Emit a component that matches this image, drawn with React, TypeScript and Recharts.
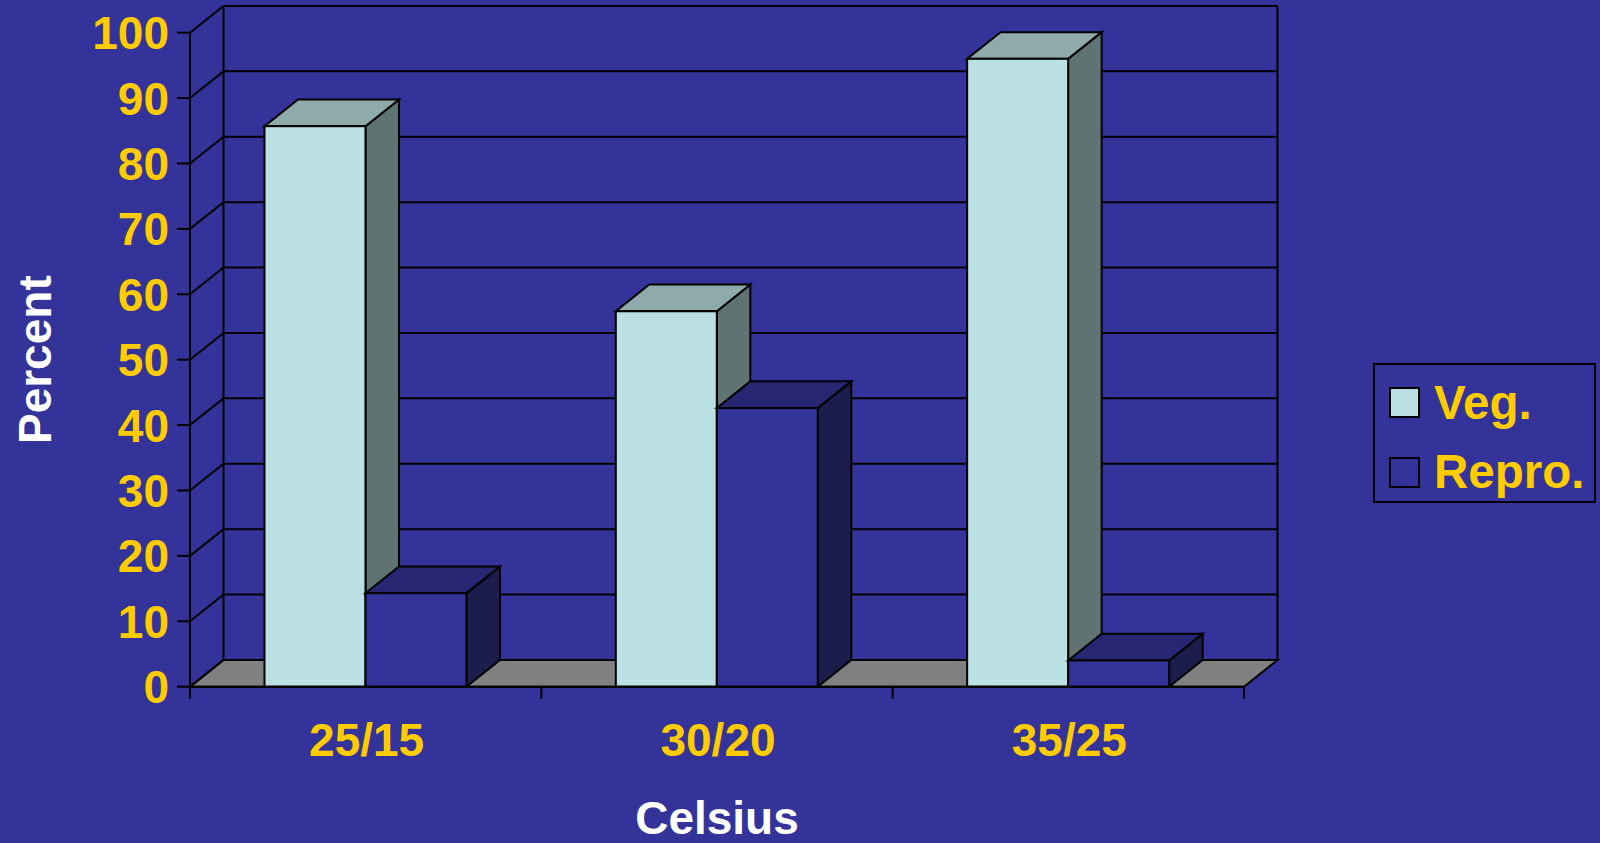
import { BarChart, Bar, XAxis, YAxis, CartesianGrid, Legend } from 'recharts';

const CATEGORIES = ['25/15', '30/20', '35/25'];
const VEG = [85.7, 57.4, 96];
const REPRO = [14.3, 42.6, 4];
const Y_TICKS = [0, 10, 20, 30, 40, 50, 60, 70, 80, 90, 100];

const data = CATEGORIES.map((name, i) => ({ name, veg: VEG[i], repro: REPRO[i] }));

const BG = '#333399';
const YELLOW = '#ffcc00';
const FONT = 'Arial, "Liberation Sans", sans-serif';
const LINE = 2;
// depth of the fake 3d
const DX = 33.5;
const DY = -26.7;

const SERIES = [
  { key: 'veg', label: 'Veg.', front: '#bbe0e3', top: '#8eaaaa', side: '#5f7373' },
  { key: 'repro', label: 'Repro.', front: '#333399', top: '#262673', side: '#1c1c4d' },
];

function box(c: { front: string; top: string; side: string }) {
  return (p: any) => {
    const { x, y, width: w, height: h } = p;
    if (h == null || w == null) return <g />;
    const r = x + w;
    const b = y + h;
    return (
      <g stroke="#000" strokeWidth={LINE}>
        <polygon points={`${r},${y} ${r + DX},${y + DY} ${r + DX},${b + DY} ${r},${b}`} fill={c.side} />
        <polygon points={`${x},${y} ${r},${y} ${r + DX},${y + DY} ${x + DX},${y + DY}`} fill={c.top} />
        <rect x={x} y={y} width={w} height={h} fill={c.front} />
      </g>
    );
  };
}

// each horizontal grid line becomes back-wall line + left-wall diagonal
function wallLine(p: any) {
  const { x1, x2, y1, key } = p;
  const top = p.y ?? p.offset?.top;
  const bottom = top + (p.height ?? p.offset?.height);
  const isFloor = Math.abs(y1 - bottom) < 0.5;
  const isTop = Math.abs(y1 - top) < 0.5;
  return (
    <g key={key} stroke="#000" strokeWidth={LINE} fill="none">
      {isFloor ? (
        <polygon
          points={`${x1},${y1} ${x2},${y1} ${x2 + DX},${y1 + DY} ${x1 + DX},${y1 + DY}`}
          fill="#808080"
        />
      ) : (
        <line x1={x1 + DX} y1={y1 + DY} x2={x2 + DX} y2={y1 + DY} />
      )}
      <line x1={x1} y1={y1} x2={x1 + DX} y2={y1 + DY} />
      {isTop && (
        <>
          <line x1={x1 + DX} y1={y1 + DY} x2={x1 + DX} y2={bottom + DY} />
          <line x1={x2 + DX} y1={y1 + DY} x2={x2 + DX} y2={bottom + DY} />
        </>
      )}
    </g>
  );
}

function YTick(p: any) {
  const { x, y, payload } = p;
  return (
    <g>
      <line x1={x - 13} y1={y} x2={x} y2={y} stroke="#000" strokeWidth={LINE} />
      <text x={x - 21} y={y} dy="0.36em" textAnchor="end" fill={YELLOW} fontFamily={FONT} fontWeight="bold" fontSize={46}>
        {payload.value}
      </text>
    </g>
  );
}

function XTick(p: any) {
  const { x, y, payload, index, visibleTicksCount, width } = p;
  const band = width / visibleTicksCount;
  const last = index === visibleTicksCount - 1;
  return (
    <g>
      <line x1={x - band / 2} y1={y} x2={x - band / 2} y2={y + 12} stroke="#000" strokeWidth={LINE} />
      {last && <line x1={x + band / 2} y1={y} x2={x + band / 2} y2={y + 12} stroke="#000" strokeWidth={LINE} />}
      <text x={x + 1} y={y + 69.5} textAnchor="middle" fill={YELLOW} fontFamily={FONT} fontWeight="bold" fontSize={46}>
        {payload.value}
      </text>
    </g>
  );
}

// legend follows series order (veg on top)
function renderLegend() {
  return (
    <div
      style={{
        position: 'relative',
        width: 223,
        height: 140,
        boxSizing: 'border-box',
        border: '2px solid #000',
        fontFamily: FONT,
        fontWeight: 'bold',
        fontSize: 47.5,
        color: YELLOW,
      }}
    >
      {SERIES.map((s, i) => (
        <div key={s.key}>
          <div
            style={{
              position: 'absolute',
              left: 14,
              top: 22 + i * 70,
              width: 31,
              height: 31,
              boxSizing: 'border-box',
              border: '2px solid #000',
              background: s.front,
            }}
          />
          <div style={{ position: 'absolute', left: 59, top: 11 + i * 69, lineHeight: '53px', whiteSpace: 'nowrap' }}>
            {s.label}
          </div>
        </div>
      ))}
    </div>
  );
}

export default function App() {
  return (
    <div style={{ position: 'fixed', left: 0, top: 0, width: 1600, height: 843, background: BG }}>
      <BarChart
        width={1600}
        height={843}
        data={data}
        margin={{ top: 32.67, right: 356, left: 0, bottom: 0 }}
        barCategoryGap="21.2%"
        barGap={0}
      >
        <CartesianGrid horizontal={wallLine} vertical={false} stroke="#000" />
        <XAxis
          dataKey="name"
          height={156.33}
          tickSize={0}
          tickMargin={0}
          tick={XTick}
          axisLine={{ stroke: '#000', strokeWidth: LINE }}
          label={{
            content: (lp: any) => {
              const vb = lp.viewBox;
              return (
                <text x={vb.x + vb.width / 2} y={vb.y + 147} textAnchor="middle" fill="#fff" fontFamily={FONT} fontWeight="bold" fontSize={46}>
                  Celsius
                </text>
              );
            },
          }}
        />
        <YAxis
          type="number"
          domain={[0, 100]}
          ticks={Y_TICKS}
          interval={0}
          width={190}
          tickSize={0}
          tickMargin={0}
          tick={YTick}
          axisLine={{ stroke: '#000', strokeWidth: LINE }}
          label={{
            content: (lp: any) => {
              const vb = lp.viewBox;
              const cx = vb.x + 51;
              const cy = vb.y + vb.height / 2;
              return (
                <text x={cx} y={cy} transform={`rotate(-90, ${cx}, ${cy})`} textAnchor="middle" fill="#fff" fontFamily={FONT} fontWeight="bold" fontSize={46}>
                  Percent
                </text>
              );
            },
          }}
        />
        <Legend
          layout="vertical"
          align="center"
          verticalAlign="middle"
          wrapperStyle={{ left: 1373, top: 363, width: 223, height: 140 }}
          content={renderLegend}
        />
        {SERIES.map((s) => (
          <Bar key={s.key} dataKey={s.key} name={s.label} fill={s.front} shape={box(s)} isAnimationActive={false} />
        ))}
      </BarChart>
    </div>
  );
}
